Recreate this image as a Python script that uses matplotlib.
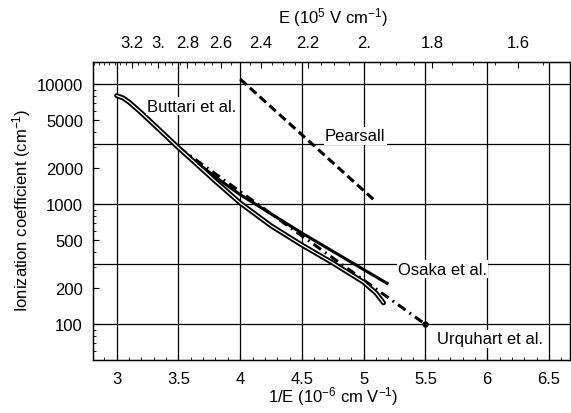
import numpy as np
import matplotlib
matplotlib.use('Agg')
import matplotlib.pyplot as plt
from matplotlib.ticker import FixedLocator, NullFormatter, FixedFormatter

plt.rcParams['font.family'] = ['Liberation Sans', 'DejaVu Sans']
plt.rcParams['mathtext.fontset'] = 'custom'
plt.rcParams['mathtext.rm'] = 'Liberation Sans'
plt.rcParams['mathtext.it'] = 'Liberation Sans:italic'

# ---- data (x = 1/E in 1e-6 cm/V, y = ionization coefficient in 1/cm) ----
buttari_x = [3.0, 3.05, 3.1, 3.2, 3.35, 3.5, 3.65, 3.8, 3.9, 4.0, 4.25, 4.5, 4.75, 5.0, 5.1, 5.16]
buttari_y = [8000, 7670, 7080, 5750, 4120, 2950, 2140, 1550, 1260, 1023, 661, 457, 324, 224, 182, 151]

osaka_x = [3.4, 3.5, 3.65, 3.8, 4.0, 4.5, 5.2]
osaka_y = [3630, 2950, 2210, 1680, 1200, 575, 216]

urquhart_x = [3.5, 5.5]
urquhart_y = [2970, 100]

pearsall_x = [4.0, 5.09]
pearsall_y = [11000, 1070]

x_ticks = [3, 3.5, 4, 4.5, 5, 5.5, 6, 6.5]
x_ticklabels = ['3', '3.5', '4', '4.5', '5', '5.5', '6', '6.5']
y_ticks = [100, 200, 500, 1000, 2000, 5000, 10000]
y_ticklabels = ['100', '200', '500', '1000', '2000', '5000', '10000']
top_E = [3.2, 3.0, 2.8, 2.6, 2.4, 2.2, 2.0, 1.8, 1.6]
top_labels = ['3.2', '3.', '2.8', '2.6', '2.4', '2.2', '2.', '1.8', '1.6']
grid_x = [3, 3.5, 4, 4.5, 5, 5.5, 6, 6.5]
grid_y = [100, 316.23, 1000, 3162.3, 10000]

W, H = 571, 414
fig = plt.figure(figsize=(W / 100, H / 100), dpi=100)
L, R, T, B = 92.7, 570.0, 63.3, 361.0
ax = fig.add_axes([L / W, 1 - B / H, (R - L) / W, (B - T) / H])
ax.set_yscale('log')
ax.set_xlim(2.806, 6.67)
ax.set_ylim(50.5, 15160)

for gx in grid_x:
    ax.axvline(gx, color='black', lw=0.9, zorder=1)
for gy in grid_y:
    ax.axhline(gy, color='black', lw=0.9, zorder=1)

# curves
ax.plot(osaka_x, osaka_y, color='black', lw=2.2, solid_capstyle='butt', zorder=3)
ax.plot(urquhart_x, urquhart_y, color='black', lw=2.2, dashes=(3.0, 1.6, 0.6, 1.6),
        marker='o', markevery=[1], ms=3.5, zorder=3)
ax.plot(pearsall_x, pearsall_y, color='black', lw=2.2, dashes=(2.8, 1.5), zorder=3)
ax.plot(buttari_x, buttari_y, color='black', lw=3.6, solid_capstyle='round',
        solid_joinstyle='round', zorder=4)
ax.plot(buttari_x, buttari_y, color='white', lw=0.9, solid_capstyle='round',
        solid_joinstyle='round', zorder=5)

# labels on curves
box = dict(facecolor='white', edgecolor='none', pad=1.0)
ax.text(3.245, 6560, 'Buttari et al.', fontsize=12, ha='left', va='center', bbox=box, zorder=6)
ax.text(4.687, 3715, 'Pearsall', fontsize=12, ha='left', va='center', bbox=box, zorder=6)
ax.text(5.278, 288, 'Osaka et al.', fontsize=12, ha='left', va='center', bbox=box, zorder=6)
ax.text(5.594, 75.6, 'Urquhart et al.', fontsize=12, ha='left', va='center', bbox=box, zorder=6)

# ticks
ax.xaxis.set_major_locator(FixedLocator(x_ticks))
ax.xaxis.set_major_formatter(FixedFormatter(x_ticklabels))
ax.xaxis.set_minor_locator(FixedLocator(np.arange(2.9, 6.7, 0.1)))
ax.yaxis.set_major_locator(FixedLocator(y_ticks))
ax.yaxis.set_major_formatter(FixedFormatter(y_ticklabels))
minor_y = [m * 10 ** d for d in range(1, 5) for m in range(1, 10)]
ax.yaxis.set_minor_locator(FixedLocator(minor_y))
ax.yaxis.set_minor_formatter(NullFormatter())
ax.tick_params(axis='both', which='major', direction='in', length=4, width=0.8,
               labelsize=12, colors='black')
ax.tick_params(axis='both', which='minor', direction='in', length=2.2, width=0.6)
ax.tick_params(axis='x', which='major', pad=8)
ax.tick_params(axis='y', which='major', pad=7)
ax.tick_params(top=False, right=False, which='both')

for s in ax.spines.values():
    s.set_linewidth(1.0)

# top axis
ax2 = ax.twiny()
ax2.set_xlim(ax.get_xlim())
ax2.xaxis.set_major_locator(FixedLocator([10.0 / e for e in top_E]))
ax2.xaxis.set_major_formatter(FixedFormatter(top_labels))
top_minor = [10.0 / e for e in np.arange(1.50, 3.60, 0.05)]
ax2.xaxis.set_minor_locator(FixedLocator(top_minor))
ax2.tick_params(axis='x', which='major', direction='in', length=4, width=0.8, labelsize=12, pad=9)
ax2.tick_params(axis='x', which='minor', direction='in', length=2.2, width=0.6)

# axis titles
fig.text(0.0385, 1 - 210 / H, 'Ionization coefficient (cm$^{\\mathregular{-1}}$)',
         rotation=90, ha='center', va='center', fontsize=12)
fig.text(333 / W, 1 - 397 / H, '1/E (10$^{\\mathregular{-6}}$ cm V$^{\\mathregular{-1}}$)',
         ha='center', va='center', fontsize=12)
fig.text(333 / W, 1 - 18 / H, 'E (10$^{\\mathregular{5}}$ V cm$^{\\mathregular{-1}}$)',
         ha='center', va='center', fontsize=12)

fig.savefig('out.png', dpi=100)
